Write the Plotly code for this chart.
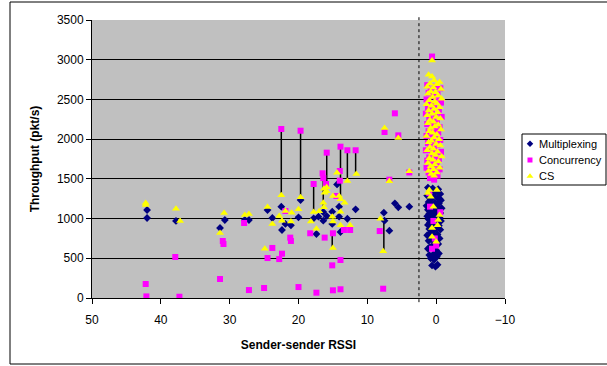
import plotly.graph_objects as go

# ---------------- data ----------------
# Multiplexing (sender-sender RSSI, throughput)
mux_x = [42.0, 42.0, 37.8, 30.7, 31.4, 27.8, 27.2, 24.5, 23.8, 22.5, 22.4, 21.9, 21.1, 20.0,
         19.7, 17.8, 17.1, 16.4, 16.4, 15.9, 15.1, 15.1, 14.1, 12.9, 13.9, 17.4, 14.4, 14.1,
         11.7, 7.6, 7.5, 6.8, 6.0, 5.5, 3.9,
         1.2, 0.5, -0.3, 0.9, 0.1, -0.6, 1.3, 0.4, -0.2, 0.8, -0.7, 1.1, 0.2, -0.4, 0.6, 1.4,
         -0.1, 0.9, -0.8, 0.3, 1.2, -0.3, 0.7, 0.0, -0.6, 1.0, 0.4, -0.2, 1.3, 0.8, -0.5, 0.1,
         1.1, 0.5, -0.7, -0.1, 0.9, 0.3, 1.2, -0.4, 0.6, 0.0, 1.0, -0.6, 0.4, 0.8, -0.2, 1.3,
         0.2, -0.5, 0.7, 1.1, 0.1, -0.3, 0.5, 0.9, 1.2, 0.0, -0.4, 0.4, 1.0, -0.1, 0.8, 0.3,
         -0.2, 0.6, 0.1, 0.6, -0.1, 1.0, 0.2, -0.5]
mux_y = [1108, 1007, 970, 982, 881, 982, 982, 1108, 1007, 1150, 856, 932, 915, 1016,
         1234, 1003, 1024, 1083, 973, 1032, 1087, 932, 1024, 998, 831, 806, 1430, 1150,
         1117, 1074, 973, 847, 1192, 1142, 1150,
         1390, 1380, 1370, 1340, 1330, 1310, 1290, 1280, 1260, 1240, 1230, 1210, 1200, 1190, 1170, 1160,
         1150, 1140, 1130, 1120, 1110, 1100, 1090, 1080, 1070, 1060, 1050, 1040, 1030, 1020, 1010, 1000,
         990, 980, 970, 960, 950, 940, 920, 910, 900, 880, 870, 860, 840, 820, 800, 790,
         770, 750, 740, 720, 700, 680, 660, 640, 620, 600, 560, 550, 540, 520, 500, 480,
         420, 410, 395, 1120, 1180, 1160, 1050, 1250]

# Concurrency
conc_x = [42.2, 42.1, 37.9, 37.3, 31.0, 30.9, 31.4, 27.9, 27.2, 25.0, 24.5, 23.8, 22.8, 22.4,
          22.5, 21.9, 21.2, 21.1, 20.0, 19.7, 17.8, 18.3, 17.4, 16.5, 16.4, 16.0, 15.9, 16.2,
          15.0, 15.1, 15.0, 14.0, 14.0, 13.9, 13.9, 13.9, 13.4, 12.5, 12.9, 11.7, 14.5, 8.2,
          7.7, 7.5, 6.0, 5.5, 6.8, 3.9,
          0.6, 1.3, 0.2, -0.6, 0.8, 1.1, -0.2, 0.5, 1.4, 0.0, -0.7, 0.9, 0.3, 1.2, -0.4, 0.6,
          1.5, 0.1, -0.8, 1.0, 0.4, -0.1, 1.3, 0.7, -0.5, 0.2, 1.1, -0.3, 0.8, 1.4, 0.0, -0.6,
          0.5, 1.2, -0.2, 0.9, 0.3, 1.5, -0.7, 0.6, 0.1, 1.0, -0.4, 1.3, 0.4, -0.1, 0.8, 1.4,
          -0.5, 0.2, 1.1, 0.6, -0.2, 0.9, 0.3,
          1.0, 0.9, 0.4, -0.6, 0.0, 0.6, 0.2]
conc_y = [176, 20, 516, 16, 718, 680, 239, 944, 100, 126, 503, 630, 490, 558,
          2128, 1095, 760, 718, 138, 2106, 1435, 815, 67, 1570, 1510, 1435, 1830, 760,
          815, 411, 97, 1599, 1477, 1905, 478, 110, 856, 856, 1860, 1860, 1284, 843,
          117, 2090, 2325, 2048, 1490, 1580,
          3040, 2680, 2660, 2640, 2620, 2580, 2560, 2540, 2500, 2480, 2460, 2440, 2420, 2390, 2370, 2350,
          2320, 2300, 2280, 2260, 2230, 2210, 2190, 2170, 2150, 2120, 2100, 2080, 2060, 2040, 2010, 1990,
          1970, 1950, 1930, 1900, 1880, 1860, 1840, 1820, 1790, 1770, 1750, 1730, 1700, 1680, 1660, 1640,
          1620, 1600, 1580, 1560, 1540, 1510, 1490,
          1320, 1150, 970, 1080, 660, 620, 750]

# CS
cs_x = [42.2, 42.2, 37.8, 37.2, 30.8, 31.4, 27.8, 27.2, 24.5, 23.8, 24.9, 22.8, 22.4, 22.5,
        21.9, 21.0, 21.1, 20.0, 19.7, 17.8, 18.2, 17.4, 17.0, 16.4, 16.3, 15.9, 15.9, 15.1,
        15.0, 15.0, 14.4, 14.1, 13.9, 13.9, 13.3, 13.9, 12.5, 12.9, 11.6, 8.1, 7.7, 7.5,
        6.8, 5.5, 3.9, 15.0, 16.3, 16.2,
        0.6, 1.1, 0.6, 0.3, -0.5, 0.9, -0.1, 1.3, 0.4, -0.7, 0.8, 0.1, 1.2, -0.3, 0.5, -0.8,
        1.0, 0.2, -0.1, 1.4, 0.7, -0.5, 0.3, 1.1, -0.2, 0.6, 1.3, 0.0, -0.6, 0.9, 0.4, 1.2,
        -0.3, 0.2, 0.8, -0.7, 1.0, 0.5, -0.1, 1.4, 0.3, -0.4, 0.7, 1.1, 0.0, -0.6, 0.9, 0.4,
        1.3, -0.2, 0.6, 0.1, -0.8, 1.0, 0.5, -0.3, 1.2, 0.2, 0.8, -0.5, 0.4, 1.1, -0.1, 0.7, 0.3,
        1.0, -0.1, 1.2, 0.8, 0.4, -0.5, -0.3, 0.6, -0.2, 0.6, 0.0]
cs_y = [1196, 1170, 1124, 970, 1070, 818, 1045, 1057, 1146, 932, 620, 1032, 973, 1293,
        1095, 1074, 964, 1117, 1268, 1083, 964, 872, 1091, 1200, 1142, 1343, 1393, 1024,
        964, 630, 1577, 1284, 1242, 1087, 1200, 915, 915, 1473, 1561, 998, 588, 2140,
        1469, 2014, 1595, 1284, 1376, 1326,
        2990, 2810, 2790, 2740, 2720, 2700, 2690, 2660, 2650, 2630, 2600, 2590, 2570, 2550, 2530, 2510,
        2490, 2470, 2450, 2440, 2420, 2400, 2380, 2360, 2340, 2320, 2300, 2280, 2260, 2240, 2220, 2200,
        2180, 2160, 2140, 2120, 2100, 2080, 2060, 2040, 2020, 2000, 1980, 1960, 1940, 1920, 1900, 1880,
        1860, 1840, 1820, 1800, 1780, 1760, 1740, 1720, 1700, 1680, 1660, 1640, 1620, 1600, 1580, 1560, 1540,
        1360, 1360, 1322, 1275, 1150, 1045, 982, 881, 915, 772, 709]

# vertical connectors between paired measurements
link_x = [22.5, 19.7, 17.8, 16.4, 15.9, 13.9, 12.9, 11.7, 15.1, 7.6]
link_low = [1293, 1268, 1083, 1142, 1343, 1284, 1473, 1561, 626, 588]
link_high = [2128, 2106, 1435, 1570, 1830, 1905, 1860, 1860, 815, 973]

divider_rssi = 2.5
x_ticks = [50, 40, 30, 20, 10, 0, -10]
y_ticks = [0, 500, 1000, 1500, 2000, 2500, 3000, 3500]

series_names = ["Multiplexing", "Concurrency", "CS"]
series_colors = ["#000080", "#FF00FF", "#FFFF00"]
series_symbols = ["diamond", "square", "triangle-up"]
series_sizes = [6, 6, 7]

# ---------------- figure ----------------
FONT = "Liberation Sans, Arial, sans-serif"
W, H = 607, 366
ML, MR, MT, MB = 92, 1, 20, 68
PW = W - ML - MR            # paper width in px
PH = H - MT - MB            # paper height in px
PLOT_W = 413                # plot area width in px


def px_x(p):
    return (p - ML) / PW


def px_y(p):
    return (H - MB - p) / PH


fig = go.Figure()

lx, ly = [], []
for x, lo, hi in zip(link_x, link_low, link_high):
    lx += [x, x, None]
    ly += [lo, hi, None]
fig.add_trace(go.Scatter(x=lx, y=ly, mode="lines", line=dict(color="black", width=1.5),
                         showlegend=False, hoverinfo="skip"))

for name, xs, ys, col, sym, sz in zip(series_names, [mux_x, conc_x, cs_x], [mux_y, conc_y, cs_y],
                                      series_colors, series_symbols, series_sizes):
    fig.add_trace(go.Scatter(x=xs, y=ys, mode="markers", name=name, showlegend=False,
                             marker=dict(symbol=sym, size=sz, color=col, line=dict(width=0))))

# legend drawn in its own small axes
leg_x0, leg_x1 = px_x(522), px_x(606)
leg_y0, leg_y1 = px_y(185), px_y(134)
leg_rows = [0.81, 0.49, 0.17]
fig.add_shape(type="rect", xref="paper", yref="paper", x0=leg_x0, x1=leg_x1, y0=leg_y0, y1=leg_y1,
              line=dict(color="black", width=1), fillcolor="white", layer="below")
for name, col, sym, sz, row in zip(series_names, series_colors, series_symbols, series_sizes, leg_rows):
    fig.add_trace(go.Scatter(x=[0.095], y=[row], xaxis="x2", yaxis="y2", mode="markers",
                             showlegend=False, hoverinfo="skip",
                             marker=dict(symbol=sym, size=sz - 1, color=col, line=dict(width=0))))
    fig.add_annotation(xref="x2", yref="y2", x=0.175, y=row, text=name, showarrow=False,
                       xanchor="left", yanchor="middle", font=dict(size=11, family=FONT))

fig.add_shape(type="line", xref="x", yref="paper", x0=divider_rssi, x1=divider_rssi,
              y0=-0.015, y1=1.01, line=dict(color="black", width=1, dash="dot"))

# outer chart frame
fig.add_shape(type="rect", xref="paper", yref="paper", x0=px_x(10), x1=px_x(612), y0=px_y(364), y1=px_y(2),
              line=dict(color="black", width=1))

fig.update_layout(
    width=W, height=H,
    margin=dict(l=ML, r=MR, t=MT, b=MB, autoexpand=False),
    paper_bgcolor="white", plot_bgcolor="#C0C0C0",
    font=dict(family=FONT, size=12, color="black"),
    showlegend=False,
    xaxis=dict(domain=[0, PLOT_W / PW], range=[50, -10], tickvals=x_ticks, showgrid=False, zeroline=False,
               showline=True, linecolor="black", linewidth=1, ticks="outside", ticklen=5,
               tickcolor="black", tickfont=dict(size=12), ticklabelstandoff=6,
               title=dict(text="<b>Sender-sender RSSI</b>", font=dict(size=12), standoff=14)),
    yaxis=dict(range=[0, 3500], tickvals=y_ticks, showgrid=True, gridcolor="black", gridwidth=1,
               zeroline=False, showline=True, linecolor="black", linewidth=1, ticks="outside",
               ticklen=5, tickcolor="black", tickfont=dict(size=12),
               title=dict(text="<b>Throughput (pkt/s)</b>", font=dict(size=12), standoff=14)),
    xaxis2=dict(domain=[leg_x0, leg_x1], range=[0, 1], visible=False, fixedrange=True, anchor="y2"),
    yaxis2=dict(domain=[leg_y0, leg_y1], range=[0, 1], visible=False, fixedrange=True, anchor="x2"),
)

fig.write_html("out.html")
